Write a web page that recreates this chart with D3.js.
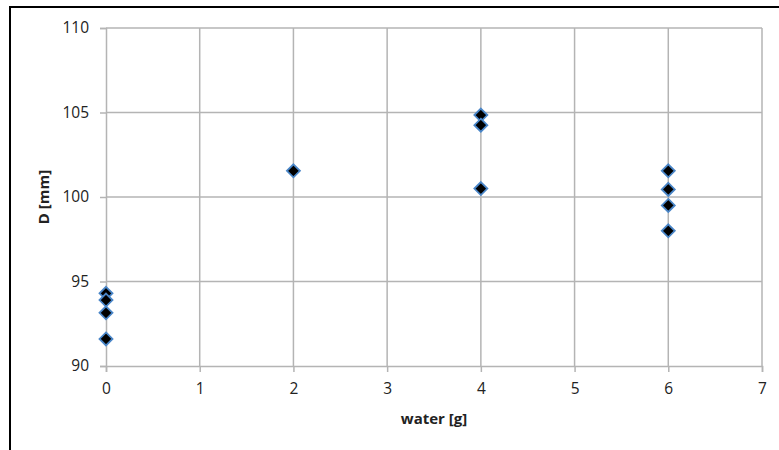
<!DOCTYPE html>
<html>
  <head>
    <meta http-equiv="Content-Type" content="text/html;charset=utf-8"/>
    <script type="text/javascript" src="https://cdn.jsdelivr.net/npm/d3@7"></script>
    <style type="text/css">
      body { margin: 0; background: #fff; }
      text { font-family: "Open Sans", "Liberation Sans", sans-serif; fill: #222; }
      .tick text { font-size: 15.5px; }
      .title { font-size: 15px; font-weight: bold; }
    </style>
  </head>
  <body>
    <svg id="chart" width="779" height="450"></svg>
    <script type="text/javascript">

    // data
    var water = [0, 0, 0, 0, 2, 4, 4, 4, 6, 6, 6, 6];
    var diam  = [94.3, 93.9, 93.15, 91.6, 101.55, 104.85, 104.25, 100.5, 101.55, 100.45, 99.5, 98.0];
    var xTicks = [0, 1, 2, 3, 4, 5, 6, 7];
    var yTicks = [90, 95, 100, 105, 110];

    var svg = d3.select("#chart");
    var plotL = 106, plotR = 762, plotT = 28, plotB = 366;

    var x = d3.scaleLinear().domain([0, 7]).range([plotL, plotR]);
    var y = d3.scaleLinear().domain([90, 110]).range([plotB, plotT]);

    // outer frame (runs off the right and bottom edge)
    svg.append("rect")
        .attr("x", 10).attr("y", 7)
        .attr("width", 800).attr("height", 500)
        .attr("fill", "none")
        .attr("stroke", "#000")
        .attr("stroke-width", 2);

    var grid = "#b4b4b4";

    var xAxis = svg.append("g")
        .attr("transform", "translate(0," + plotB + ")")
        .call(d3.axisBottom(x).tickValues(xTicks).tickFormat(d3.format("d")).tickSize(6).tickPadding(11));
    var yAxis = svg.append("g")
        .attr("transform", "translate(" + plotL + ",0)")
        .call(d3.axisLeft(y).tickValues(yTicks).tickFormat(d3.format("d")).tickSize(6).tickPadding(11));

    [xAxis, yAxis].forEach(function(a) {
      a.select(".domain").attr("stroke", grid).attr("stroke-width", 1.5);
      a.selectAll(".tick line").attr("stroke", grid).attr("stroke-width", 1.5);
      a.selectAll(".tick text").attr("fill", "#222");
    });

    // grid lines
    svg.append("g").selectAll("line").data(xTicks.slice(1)).enter().append("line")
        .attr("x1", function(d) { return x(d); }).attr("x2", function(d) { return x(d); })
        .attr("y1", plotT).attr("y2", plotB)
        .attr("stroke", grid).attr("stroke-width", 1.5);
    svg.append("g").selectAll("line").data(yTicks.slice(1)).enter().append("line")
        .attr("x1", plotL).attr("x2", plotR)
        .attr("y1", function(d) { return y(d); }).attr("y2", function(d) { return y(d); })
        .attr("stroke", grid).attr("stroke-width", 1.5);

    // diamonds
    var r = 6.5;
    svg.append("g").selectAll("path").data(d3.range(water.length)).enter().append("path")
        .attr("transform", function(i) { return "translate(" + x(water[i]) + "," + y(diam[i]) + ")"; })
        .attr("d", "M0," + (-r) + "L" + r + ",0L0," + r + "L" + (-r) + ",0Z")
        .attr("fill", "#000")
        .attr("stroke", "#4a86c8")
        .attr("stroke-width", 1.8);

    svg.append("text").attr("class", "title")
        .attr("x", x(3.5)).attr("y", 424)
        .attr("text-anchor", "middle")
        .text("water [g]");
    svg.append("text").attr("class", "title")
        .attr("transform", "translate(49," + y(100) + ") rotate(-90)")
        .attr("text-anchor", "middle")
        .text("D [mm]");

    </script>
  </body>
</html>
